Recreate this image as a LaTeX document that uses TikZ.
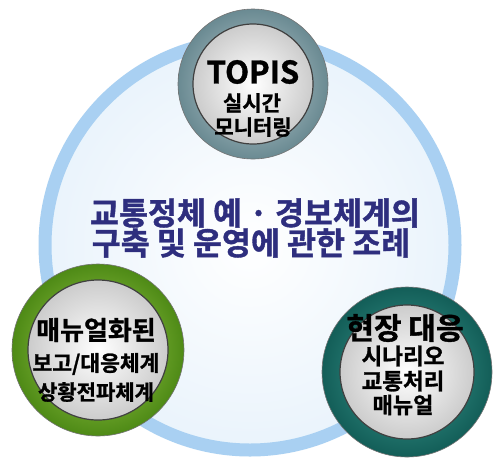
\documentclass[tikz,border=0pt]{standalone}
\usepackage{fontspec}
\setmainfont{Noto Sans CJK KR}[BoldFont={Noto Sans CJK KR Bold},BoldFeatures={FakeBold=1.2}]
\usetikzlibrary{shapes.geometric}
\definecolor{ringblue}{HTML}{A9D0F2}
\definecolor{navy}{HTML}{2E2E7E}
\definecolor{grayin}{HTML}{C2D2D6}
\definecolor{grayout}{HTML}{6A8A92}
\definecolor{greenin}{HTML}{A6D452}
\definecolor{greenout}{HTML}{4E8A16}
\definecolor{tealin}{HTML}{3FA096}
\definecolor{tealout}{HTML}{135E58}
\tikzset{
  outerdisc/.style={circle, draw=black!55, line width=0.6pt, inner sep=0pt, minimum size=#1, shading=radial},
  innerdisc/.style={circle, draw=black!75, line width=1.2pt, inner sep=0pt, minimum size=#1,
    shading=radial, inner color=white, outer color=black!20},
  big/.style={font=\bfseries\fontsize{26}{28}\selectfont, inner sep=0pt},
  small/.style={font=\bfseries\fontsize{21}{23}\selectfont, inner sep=0pt},
  mid/.style={font=\bfseries\fontsize{31.5}{33}\selectfont, text=navy, inner sep=0pt}
}
\begin{document}
\begin{tikzpicture}[x=1pt,y=-1pt]
\useasboundingbox (0,0) rectangle (500,467);
\fill[white] (0,0) rectangle (500,467);
% big ring
\node[circle, minimum size=410, inner sep=0pt, shading=radial, inner color=white, outer color=ringblue!25] (bg) at (250,245) {};
\node[circle, draw=ringblue, line width=13pt, minimum size=410, inner sep=0pt] (ring) at (250,245) {};
% centre title
\node[mid] (t1) at (255,213) {교통정체 예 · 경보체계의};
\node[mid] (t2) at (251,243) {구축 및 운영에 관한 조례};
% top
\node[outerdisc=150, inner color=grayin, outer color=grayout] (topo) at (253,84) {};
\node[innerdisc=120] (topi) at (253,84) {};
\node[font=\bfseries\fontsize{31}{33}\selectfont, inner sep=0pt] (topa) at (253,72) {TOPIS};
\node[small] (topb) at (252,103) {실시간};
\node[small] (topc) at (253,127) {모니터링};
% left
\node[outerdisc=172, inner color=greenin, outer color=greenout] (lefto) at (98,350) {};
\node[innerdisc=140] (lefti) at (98,350) {};
\node[big] (lefta) at (96,330) {매뉴얼화된};
\node[font=\bfseries\fontsize{21.5}{23}\selectfont, inner sep=0pt] (leftb) at (96,364) {보고/대응체계};
\node[font=\bfseries\fontsize{21}{23}\selectfont, inner sep=0pt] (leftc) at (96,392) {상황전파체계};
% right
\node[outerdisc=170, inner color=tealin, outer color=tealout] (righto) at (407,372) {};
\node[innerdisc=134] (righti) at (407,372) {};
\node[font=\bfseries\fontsize{30}{32}\selectfont, inner sep=0pt] (righta) at (405,328) {현장 대응};
\node[font=\bfseries\fontsize{22.5}{24}\selectfont, inner sep=0pt] (rightb) at (403,356) {시나리오};
\node[font=\bfseries\fontsize{22.5}{24}\selectfont, inner sep=0pt] (rightc) at (403,381) {교통처리};
\node[font=\bfseries\fontsize{22}{24}\selectfont, inner sep=0pt] (rightd) at (403,405) {매뉴얼};
\end{tikzpicture}
\end{document}
